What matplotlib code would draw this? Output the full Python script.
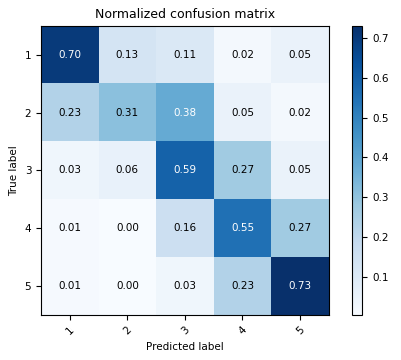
import numpy as np
import matplotlib
matplotlib.use("Agg")
import matplotlib.pyplot as plt

classes = ["1", "2", "3", "4", "5"]
# row-normalized values (the 0.00 cells are tiny non-zero fractions)
cm = np.array([
    [0.70, 0.13, 0.11, 0.02, 0.05],
    [0.23, 0.31, 0.38, 0.05, 0.02],
    [0.03, 0.06, 0.59, 0.27, 0.05],
    [0.01, 0.004, 0.16, 0.55, 0.27],
    [0.01, 0.004, 0.03, 0.23, 0.73],
])

plt.rcParams["font.size"] = 7.5
fig = plt.figure(figsize=(4.02, 3.6), dpi=100)
ax = fig.add_axes([0.102, 0.125, 0.716, 0.803])
cax = fig.add_axes([0.876, 0.125, 0.025, 0.803])

img = ax.imshow(cm, interpolation="nearest", cmap=plt.cm.Blues, aspect="auto")
ax.set_title("Normalized confusion matrix", fontsize=9)
fig.colorbar(img, cax=cax)

ticks = np.arange(len(classes))
ax.set_xticks(ticks)
ax.set_xticklabels(classes, rotation=45)
ax.set_yticks(ticks)
ax.set_yticklabels(classes)

thresh = cm.max() / 2.
for i in range(cm.shape[0]):
    for j in range(cm.shape[1]):
        ax.text(j, i, format(cm[i, j], ".2f"), ha="center", va="center",
                color="white" if cm[i, j] > thresh else "black")

ax.set_ylabel("True label")
ax.set_xlabel("Predicted label")

fig.savefig("out.png", dpi=100)
